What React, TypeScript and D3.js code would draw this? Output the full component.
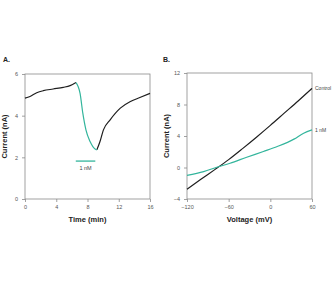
import { useEffect, useRef } from "react";
import * as d3 from "d3";

// Panel A: current over time
const timeBefore = [0, 0.64, 1.5, 2.35, 3.6, 4.9, 5.77, 6.53];
const currentBefore = [4.84, 4.92, 5.1, 5.2, 5.28, 5.36, 5.44, 5.59];
const timeDrug = [6.53, 7.05, 7.4, 7.8, 8.33, 8.97, 9.2];
const currentDrug = [5.59, 5.07, 4.12, 3.32, 2.76, 2.4, 2.36];
const timeAfter = [9.2, 9.6, 10.04, 10.9, 12.2, 13.5, 14.7, 16];
const currentAfter = [2.36, 2.76, 3.32, 3.8, 4.36, 4.68, 4.87, 5.07];
const drugBar = [6.5, 9];
const drugBarLevel = 1.82;
const timeTicks = [0, 4, 8, 12, 16];
const currentTicksA = [0, 2, 4, 6];

// Panel B: current-voltage relation
const voltControl = [-120, -100, -80, -60, -40, -20, 0, 20, 40, 60];
const currentControl = [-2.76, -1.5, -0.27, 1.0, 2.4, 3.85, 5.35, 6.9, 8.45, 10.05];
const voltDrug = [-120, -96, -77, -58, -34, -10, 10, 34, 48, 60];
const currentDrugB = [-1.0, -0.52, 0.03, 0.54, 1.3, 2.03, 2.66, 3.6, 4.36, 4.78];
const voltTicks = [-120, -60, 0, 60];
const currentTicksB = [-4, 0, 4, 8, 12];

const BLACK = "#1e1e1e";
const TEAL = "#33b59c";
const FRAME = "#8a8a8a";
const FONT = "'Liberation Sans', Arial, sans-serif";

type Panel = {
  svg: d3.Selection<SVGGElement, unknown, null, undefined>;
  x: d3.ScaleLinear<number, number>;
  y: d3.ScaleLinear<number, number>;
};

function drawFrame(
  root: d3.Selection<SVGSVGElement, unknown, null, undefined>,
  box: { left: number; right: number; top: number; bottom: number },
  xDomain: [number, number],
  yDomain: [number, number],
  xTicks: number[],
  yTicks: number[],
  letter: string,
  xTitle: string,
  letterX: number
): Panel {
  const x = d3.scaleLinear().domain(xDomain).range([box.left, box.right]);
  const y = d3.scaleLinear().domain(yDomain).range([box.bottom, box.top]);
  const g = root.append("g");

  g.append("rect")
    .attr("x", box.left)
    .attr("y", box.top)
    .attr("width", box.right - box.left)
    .attr("height", box.bottom - box.top)
    .attr("fill", "none")
    .attr("stroke", FRAME)
    .attr("stroke-width", 0.8);

  const xAxis = g
    .append("g")
    .attr("transform", `translate(0,${box.bottom})`)
    .call(d3.axisBottom(x).tickValues(xTicks).tickSize(3).tickPadding(3).tickFormat(d3.format("d")));
  const yAxis = g
    .append("g")
    .attr("transform", `translate(${box.left},0)`)
    .call(d3.axisLeft(y).tickValues(yTicks).tickSize(3).tickPadding(4).tickFormat(d3.format("d")));

  [xAxis, yAxis].forEach((a) => {
    a.select(".domain").remove();
    a.selectAll("line").attr("stroke", FRAME).attr("stroke-width", 0.8);
    a.selectAll("text")
      .attr("fill", "#555")
      .style("font-family", FONT)
      .style("font-size", "5.5px");
  });

  g.append("text")
    .attr("x", letterX)
    .attr("y", 62)
    .style("font-family", FONT)
    .style("font-size", "7px")
    .style("font-weight", "bold")
    .attr("fill", "#222")
    .text(letter);

  g.append("text")
    .attr("x", (box.left + box.right) / 2)
    .attr("y", 222)
    .attr("text-anchor", "middle")
    .style("font-family", FONT)
    .style("font-size", "7.5px")
    .style("font-weight", "bold")
    .attr("fill", "#222")
    .text(xTitle);

  g.append("text")
    .attr("transform", `translate(${box.left - 18},${(box.top + box.bottom) / 2}) rotate(-90)`)
    .attr("text-anchor", "middle")
    .style("font-family", FONT)
    .style("font-size", "7.5px")
    .style("font-weight", "bold")
    .attr("fill", "#222")
    .text("Current (nA)");

  return { svg: g, x, y };
}

function drawCurve(p: Panel, xs: number[], ys: number[], color: string) {
  const line = d3
    .line<number>()
    .x((_, i) => p.x(xs[i]))
    .y((d) => p.y(d))
    .curve(d3.curveMonotoneX);
  p.svg
    .append("path")
    .attr("d", line(ys))
    .attr("fill", "none")
    .attr("stroke", color)
    .attr("stroke-width", 1.2);
}

export default function App() {
  const ref = useRef<SVGSVGElement>(null);

  useEffect(() => {
    const root = d3.select(ref.current!);
    root.selectAll("*").remove();

    const a = drawFrame(
      root,
      { left: 25, right: 150, top: 74, bottom: 199 },
      [0, 16],
      [0, 6],
      timeTicks,
      currentTicksA,
      "A.",
      "Time (min)",
      3
    );
    drawCurve(a, timeBefore, currentBefore, BLACK);
    drawCurve(a, timeAfter, currentAfter, BLACK);
    drawCurve(a, timeDrug, currentDrug, TEAL);

    a.svg
      .append("line")
      .attr("x1", a.x(drugBar[0]))
      .attr("x2", a.x(drugBar[1]))
      .attr("y1", a.y(drugBarLevel))
      .attr("y2", a.y(drugBarLevel))
      .attr("stroke", TEAL)
      .attr("stroke-width", 1.3);
    a.svg
      .append("text")
      .attr("x", a.x((drugBar[0] + drugBar[1]) / 2))
      .attr("y", a.y(drugBarLevel) + 9)
      .attr("text-anchor", "middle")
      .style("font-family", FONT)
      .style("font-size", "5.5px")
      .attr("fill", "#444")
      .text("1 nM");

    const b = drawFrame(
      root,
      { left: 187, right: 312, top: 73, bottom: 199 },
      [-120, 60],
      [-4, 12],
      voltTicks,
      currentTicksB,
      "B.",
      "Voltage (mV)",
      163
    );
    drawCurve(b, voltControl, currentControl, BLACK);
    drawCurve(b, voltDrug, currentDrugB, TEAL);

    // end-of-curve labels, sized to fit the right margin
    const labels: [string, number][] = [
      ["Control", currentControl[currentControl.length - 1]],
      ["1 nM", currentDrugB[currentDrugB.length - 1]],
    ];
    labels.forEach(([name, v]) => {
      b.svg
        .append("text")
        .attr("x", b.x(60) + 3)
        .attr("y", b.y(v) + 2)
        .style("font-family", FONT)
        .style("font-size", "5px")
        .attr("fill", "#444")
        .text(name);
    });
  }, []);

  return (
    <svg
      ref={ref}
      width={332}
      height={284}
      style={{ position: "absolute", left: 0, top: 0, background: "#fff" }}
    />
  );
}
